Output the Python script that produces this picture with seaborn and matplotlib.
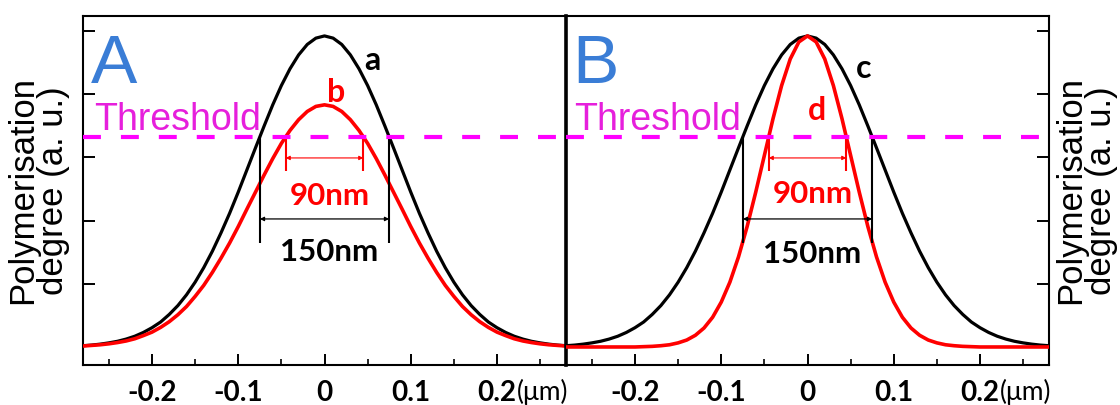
import matplotlib.pyplot as plt
import numpy as np
import pandas as pd
import seaborn as sns
from matplotlib.ticker import MultipleLocator

# --------------------------------------------------------------
# Data
# --------------------------------------------------------------

# lateral position in um, sampled every 10 nm
x_um = np.round(np.arange(-28, 29) / 100, 2)

# polymerisation profile a (panel A, black) - also c in panel B
profile_a = [
    0.004, 0.006, 0.009, 0.013, 0.018, 0.025, 0.034, 0.046, 0.061, 0.079,
    0.103, 0.131, 0.165, 0.205, 0.251, 0.303, 0.361, 0.423, 0.490, 0.560,
    0.630, 0.699, 0.766, 0.827, 0.880, 0.924, 0.957, 0.977, 0.984, 0.977,
    0.957, 0.924, 0.880, 0.827, 0.766, 0.699, 0.630, 0.560, 0.490, 0.423,
    0.361, 0.303, 0.251, 0.205, 0.165, 0.131, 0.103, 0.079, 0.061, 0.046,
    0.034, 0.025, 0.018, 0.013, 0.009, 0.006, 0.004,
]
# profile b (panel A, red): lower dose, same shape
profile_b = [
    0.003, 0.005, 0.007, 0.010, 0.014, 0.019, 0.026, 0.036, 0.047, 0.062,
    0.080, 0.102, 0.128, 0.160, 0.195, 0.236, 0.281, 0.329, 0.381, 0.436,
    0.490, 0.544, 0.596, 0.644, 0.685, 0.719, 0.745, 0.761, 0.766, 0.761,
    0.745, 0.719, 0.685, 0.644, 0.596, 0.544, 0.490, 0.436, 0.381, 0.329,
    0.281, 0.236, 0.195, 0.160, 0.128, 0.102, 0.080, 0.062, 0.047, 0.036,
    0.026, 0.019, 0.014, 0.010, 0.007, 0.005, 0.003,
]
profile_c = profile_a
# profile d (panel B, red): narrower spot, same peak
profile_d = [
    0.000, 0.000, 0.000, 0.000, 0.000, 0.000, 0.000, 0.000, 0.000, 0.001,
    0.002, 0.004, 0.007, 0.013, 0.022, 0.037, 0.060, 0.094, 0.142, 0.205,
    0.285, 0.381, 0.490, 0.606, 0.722, 0.827, 0.911, 0.965, 0.984, 0.965,
    0.911, 0.827, 0.722, 0.606, 0.490, 0.381, 0.285, 0.205, 0.142, 0.094,
    0.060, 0.037, 0.022, 0.013, 0.007, 0.004, 0.002, 0.001, 0.000, 0.000,
    0.000, 0.000, 0.000, 0.000, 0.000, 0.000, 0.000,
]

threshold = 0.665
width_black = 0.150  # um, feature width of the black curve at threshold
width_red = 0.090    # um, feature width of the red curve at threshold
width_texts = ["150nm", "90nm"]

xtick_values = [-0.2, -0.1, 0, 0.1, 0.2]
xtick_labels = ["-0.2", "-0.1", "0", "0.1", "0.2"]
ytick_values = [0.2, 0.4, 0.6, 0.8, 1.0]

# --------------------------------------------------------------
# Styling
# --------------------------------------------------------------
BLACK = "#000000"
RED = "#ff0000"
MAGENTA = "#ff00ff"
THRESH_TXT = "#e61fdc"
BLUE = "#3a7dd6"

sns.set_style("ticks")
plt.rcParams["font.family"] = ["Liberation Sans", "DejaVu Sans"]
plt.rcParams["text.color"] = BLACK
plt.rcParams["axes.labelcolor"] = BLACK
plt.rcParams["xtick.color"] = BLACK
plt.rcParams["ytick.color"] = BLACK
plt.rcParams["axes.edgecolor"] = BLACK
BOLD_FONT = ["Lato", "DejaVu Sans"]

fig = plt.figure(figsize=(11.2, 4.05), dpi=100)
ax_a = fig.add_axes([83 / 1120, 40 / 405, 483 / 1120, 349 / 405])
ax_b = fig.add_axes([566 / 1120, 40 / 405, 483 / 1120, 349 / 405])

ylabel = "Polymerisation\ndegree (a. u.)"


def style_panel(ax, side):
    ax.set_xlim(-0.28, 0.28)
    ax.set_ylim(-0.057, 1.047)
    ax.set_xticks(xtick_values, labels=xtick_labels, color=BLACK,
                  fontfamily=BOLD_FONT, fontweight="bold", fontsize=20)
    ax.xaxis.set_minor_locator(MultipleLocator(0.05))
    ax.set_yticks(ytick_values)
    ax.tick_params(axis="x", which="major", direction="in", length=8,
                   width=1.4, pad=11, color=BLACK, labelcolor=BLACK)
    ax.tick_params(axis="x", which="minor", direction="in", length=4.5,
                   width=1.2, color=BLACK)
    ax.tick_params(axis="y", which="both", direction="in", length=8.5,
                   width=1.4, color=BLACK, labelleft=False, labelright=False,
                   left=(side == "left"), right=(side == "right"))
    for s in ax.spines.values():
        s.set_color(BLACK)
        s.set_linewidth(1.5)
    if side == "left":
        ax.spines["right"].set_visible(False)
        ax.set_ylabel(ylabel, fontsize=25, labelpad=9, linespacing=0.92,
                      color=BLACK)
    else:
        ax.spines["left"].set_linewidth(2.6)
        ax.yaxis.set_label_position("right")
        ax.set_ylabel(ylabel, fontsize=25, labelpad=4, linespacing=0.92,
                      rotation=90, color=BLACK)
    ax.set_xlabel("")
    ax.annotate("(\u03bcm)", xy=(0.2, 0), xycoords=ax.get_xaxis_transform(),
                xytext=(14, -10), textcoords="offset points",
                ha="left", va="top", fontsize=19, family=BOLD_FONT,
                color=BLACK, annotation_clip=False)


def draw_widths(ax):
    # verticals at the threshold crossings + double arrow between them
    for w, color, y_bottom, y_arrow, lw in [
        (width_black, BLACK, 0.329, 0.405, 0.9),
        (width_red, RED, 0.557, 0.598, 0.8),
    ]:
        ax.vlines([-w / 2, w / 2], y_bottom, threshold, color=color, lw=1.5,
                  zorder=4)
        ax.annotate("", xy=(w / 2, y_arrow), xytext=(-w / 2, y_arrow),
                    arrowprops=dict(arrowstyle="<|-|>", color=color, lw=lw,
                                    shrinkA=0, shrinkB=0, mutation_scale=6),
                    zorder=4)


panels = [
    (ax_a, "left", profile_a, profile_b, "A", ("a", 0.056, 0.877),
     ("b", 0.014, 0.775), 0.0228, 0.449, 0.272),
    (ax_b, "right", profile_c, profile_d, "B", ("c", 0.065, 0.851),
     ("d", 0.011, 0.718), 0.0166, 0.456, 0.266),
]

for (ax, side, black_curve, red_curve, panel_letter, lab_black, lab_red,
     thr_x, y90, y150) in panels:
    sns.lineplot(x=x_um, y=black_curve, ax=ax, color=BLACK, lw=2.3, zorder=3)
    sns.lineplot(x=x_um, y=red_curve, ax=ax, color=RED, lw=2.6, zorder=3.5)
    ax.axhline(threshold, color=MAGENTA, lw=3, dashes=(4.3, 4.8), zorder=5)
    draw_widths(ax)
    style_panel(ax, side)

    ax.text(0.017 if side == "left" else 0.0124, 0.808, panel_letter,
            transform=ax.transAxes, fontsize=50, color=BLUE,
            ha="left", va="baseline")
    ax.text(thr_x, 0.673, "Threshold", transform=ax.transAxes, fontsize=27,
            color=THRESH_TXT, ha="left", va="baseline")
    for txt, color in [(lab_black, BLACK), (lab_red, RED)]:
        ax.text(txt[1], txt[2], txt[0], fontsize=23, fontweight="bold",
                family=BOLD_FONT, color=color, ha="center", va="baseline")
    ax.text(0.006, y90, width_texts[1], fontsize=22.5, fontweight="bold",
            family=BOLD_FONT, color=RED, ha="center", va="baseline")
    ax.text(0.005, y150, width_texts[0], fontsize=22.5, fontweight="bold",
            family=BOLD_FONT, color=BLACK, ha="center", va="baseline")

fig.savefig("out.png", dpi=100)
